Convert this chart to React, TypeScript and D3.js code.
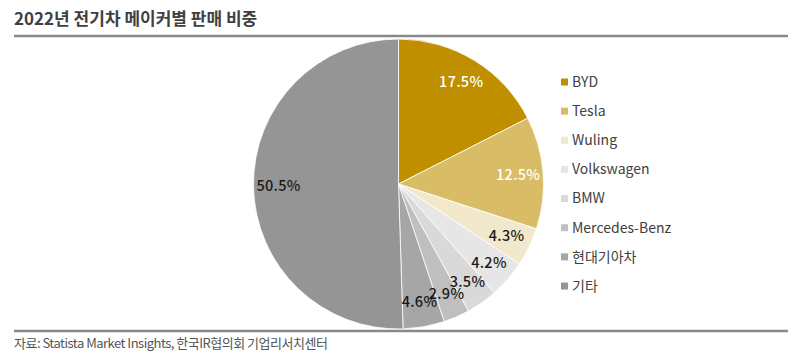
import React from "react";
import * as d3 from "d3";

const categories = ["BYD", "Tesla", "Wuling", "Volkswagen", "BMW", "Mercedes-Benz", "현대기아차", "기타"];
const shares = [17.5, 12.5, 4.3, 4.2, 3.5, 2.9, 4.6, 50.5];
const colors = ["#BF8F00", "#D9BC66", "#F2E8CC", "#E6E6E6", "#D9D9D9", "#BFBFBF", "#A6A6A6", "#959595"];
const labelColors = ["#FFFFFF", "#FFFFFF", "#1a1a1a", "#1a1a1a", "#1a1a1a", "#1a1a1a", "#1a1a1a", "#1a1a1a"];

const title = "2022년 전기차 메이커별 판매 비중";
const source = "자료: Statista Market Insights, 한국IR협의회 기업리서치센터";

const W = 800;
const H = 358;
const cx = 398.5;
const cy = 184;
const R = 145;
const labelR = 120;

export default function App() {
  const data = categories.map((c, i) => ({ name: c, value: shares[i], i }));
  const pie = d3.pie<any>().value((d) => d.value).sort(null);
  const arcs = pie(data);
  const arc = d3.arc<any>().innerRadius(0).outerRadius(R);
  const labelArc = d3.arc<any>().innerRadius(labelR).outerRadius(labelR);
  const legendY = d3.scalePoint<string>().domain(categories).range([82, 286]);
  const font = "'Noto Sans CJK KR', 'Noto Sans', sans-serif";

  return (
    <svg width={W} height={H} style={{ position: "absolute", left: 0, top: 0, background: "#fff" }} fontFamily={font}>
      <text x={14} y={25} fontSize={17} fontWeight={700} fill="#404040">{title}</text>
      <g transform={`translate(${cx},${cy})`}>
        {arcs.map((a, i) => (
          <path key={i} d={arc(a) as string} fill={colors[i]} stroke="#fff" strokeWidth={0.8} />
        ))}
      </g>
      <line x1={14} x2={788} y1={36} y2={36} stroke="#898989" strokeWidth={2.5} />
      <line x1={14} x2={788} y1={331} y2={331} stroke="#898989" strokeWidth={2.5} />
      <g transform={`translate(${cx},${cy})`}>
        {arcs.map((a, i) => {
          const [x, y] = labelArc.centroid(a);
          return (
            <text key={i} x={x} y={y} dy="0.35em" textAnchor="middle" fontSize={14.5} fontWeight={500} letterSpacing={0.3} fill={labelColors[i]}>
              {d3.format(".1f")(shares[i])}%
            </text>
          );
        })}
      </g>
      <g>
        {categories.map((c, i) => (
          <g key={c} transform={`translate(561,${legendY(c)})`}>
            <rect x={0} y={-3.5} width={7} height={7} fill={colors[i]} />
            <text x={11} y={0} dy="0.35em" fontSize={14} fill="#404040">{c}</text>
          </g>
        ))}
      </g>
      <text x={14} y={348} fontSize={13} fill="#555" letterSpacing={-0.5}>{source}</text>
    </svg>
  );
}
